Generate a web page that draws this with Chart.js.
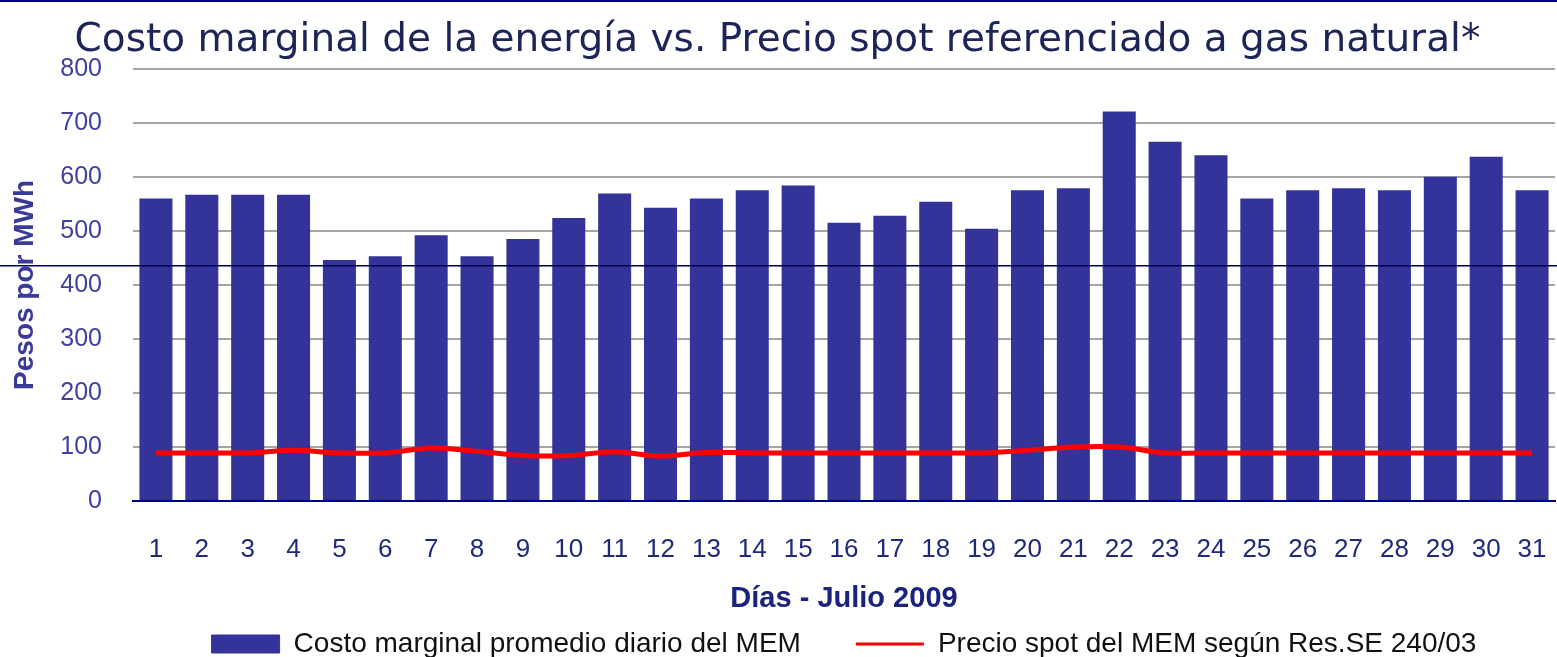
<!DOCTYPE html>
<html>
<head>
<meta charset="utf-8">
<script src="https://cdn.jsdelivr.net/npm/chart.js@4"></script>
<style>
  html, body { margin: 0; padding: 0; background: #fff; }
  #wrap { width: 1557px; height: 657px; position: relative; }
</style>
</head>
<body>
<div id="wrap"><canvas id="chart" width="1557" height="657"></canvas></div>
<script>
const days = ['1','2','3','4','5','6','7','8','9','10','11','12','13','14','15','16',
  '17','18','19','20','21','22','23','24','25','26','27','28','29','30','31']

const costoMarginal = [560, 567, 567, 567, 446, 453, 492, 453, 485, 524, 569, 543, 560, 575, 584, 515,
  528, 554, 504, 575, 579, 721, 665, 640, 560, 575, 579, 575, 600, 637, 575]

const precioSpot = [89, 89, 89, 94, 89, 89, 98, 92, 84, 84, 91, 83, 90, 89, 89, 89,
  89, 89, 89, 94, 100, 100, 89, 89, 89, 89, 89, 89, 89, 89, 89]

const yTicks = [0, 100, 200, 300, 400, 500, 600, 700, 800]

const navy = '#1c2458'
const barBlue = '#333399'

// the stray rules that sit on the original picture
const extraLines = {
    id: 'extraLines',
    afterDraw(chart) {
        const ctx = chart.ctx
        ctx.save()
        ctx.fillStyle = '#000080'
        ctx.fillRect(0, 0, chart.width, 2)
        ctx.fillStyle = '#000050'
        ctx.fillRect(0, 265, chart.width, 1.5)
        ctx.restore()
    }
}

const legendPad = 55

new Chart('chart', {
    data: {
        labels: days,
        datasets: [
            {
                type: 'line',
                label: 'Precio spot del MEM según Res.SE 240/03',
                data: precioSpot,
                borderColor: '#ff0000',
                backgroundColor: '#ff0000',
                borderWidth: 5,
                pointRadius: 0,
                tension: 0.3,
                order: 0
            },
            {
                type: 'bar',
                label: 'Costo marginal promedio diario del MEM',
                data: costoMarginal,
                backgroundColor: barBlue,
                borderWidth: 0,
                barPercentage: 0.72,
                categoryPercentage: 1,
                order: 1
            }
        ]
    },
    options: {
        responsive: false,
        animation: false,
        layout: { padding: { left: 0, right: 2, top: 0, bottom: -11 } },
        plugins: {
            title: {
                display: true,
                text: 'Costo marginal de la energía vs. Precio spot referenciado a gas natural*',
                color: navy,
                font: { family: 'DejaVu Sans', size: 39, weight: 'normal' },
                padding: { top: 17, bottom: 5 }
            },
            legend: {
                position: 'bottom',
                fullSize: false,
                reverse: true,
                labels: {
                    color: '#111',
                    font: { family: 'Liberation Sans', size: 28 },
                    usePointStyle: true,
                    pointStyleWidth: 68,
                    boxHeight: 18,
                    padding: legendPad,
                    generateLabels(chart) {
                        return chart.data.datasets.map((ds, i) => ({
                            text: ds.label,
                            datasetIndex: i,
                            fillStyle: ds.type === 'bar' ? barBlue : '#ff0000',
                            strokeStyle: ds.type === 'bar' ? barBlue : '#ff0000',
                            lineWidth: ds.type === 'bar' ? 1 : 3,
                            pointStyle: ds.type === 'bar' ? 'rect' : 'line',
                            fontColor: '#111',
                            hidden: false
                        }))
                    }
                }
            },
            tooltip: { enabled: false }
        },
        scales: {
            x: {
                afterFit(scale) {
                    scale.height = 129 - legendPad
                },
                grid: { display: false, drawTicks: true, tickLength: 30 },
                border: { display: true, color: '#000080', width: 2 },
                ticks: {
                    color: '#1f2a78',
                    font: { family: 'Liberation Sans', size: 26 },
                    padding: 3,
                    autoSkip: false,
                    maxRotation: 0
                },
                title: {
                    display: true,
                    text: 'Días - Julio 2009',
                    color: '#1a237e',
                    font: { family: 'Liberation Sans', size: 29, weight: 'bold' },
                    padding: { top: 0, bottom: 14 - legendPad }
                }
            },
            y: {
                min: 0,
                max: 800,
                afterBuildTicks(scale) {
                    scale.ticks = yTicks.map(v => ({ value: v }))
                },
                afterFit(scale) {
                    scale.width = 133
                },
                grid: { color: '#a6a6a6', lineWidth: 2, drawTicks: false },
                border: { display: false },
                ticks: {
                    color: '#4040a0',
                    font: { family: 'Liberation Sans', size: 25 },
                    padding: 31
                },
                title: {
                    display: true,
                    text: 'Pesos por MWh',
                    color: '#3a3a98',
                    font: { family: 'Liberation Sans', size: 28, weight: 'bold' },
                    padding: { top: 8, bottom: 0 }
                }
            }
        }
    },
    plugins: [extraLines]
})
</script>
</body>
</html>
